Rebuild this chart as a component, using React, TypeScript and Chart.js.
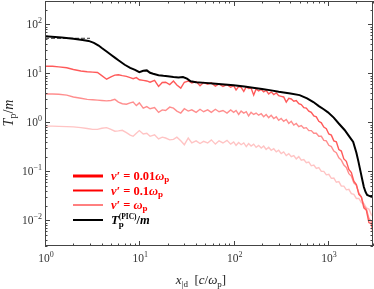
import React, { useEffect, useRef } from "react";
import { Chart, registerables } from "chart.js";
Chart.register(...registerables);

// shared x grid for the three nu' series
const xGrid = [
  1, 1.2, 1.4, 1.7, 2, 2.4, 2.8, 3.2, 3.6, 4, 4.5, 5, 5.5, 6, 6.6, 7.3, 8, 8.6, 9.3,
  10, 11, 12, 13, 14.5, 16, 17.5, 19, 21, 23, 25, 27.5, 30, 33, 36, 40, 44, 48, 53, 58, 64, 70, 77, 85, 93,
  100, 106, 113, 120, 128, 136, 144, 153, 163, 173, 184, 196, 208, 221, 235, 250, 266, 283, 300, 319,
  339, 361, 384, 408, 434, 461, 490, 521, 554, 589, 626, 665, 707, 752, 799, 850, 903, 960, 1020, 1085,
  1153, 1226, 1303, 1385, 1472, 1565, 1664, 1769, 1880, 1999, 2125, 2259, 2401, 2553, 2714, 2885, 3000,
];
// nu' = 0.01 omega_p
const yNu001 = [
  14, 14, 13.6, 13, 12, 11.2, 10.8, 10.6, 10.4, 9.0, 7.6, 8.5, 9.2, 9.4, 9.0, 8.7, 8.2, 7.8, 8.2,
  7.4, 7.2, 7.0, 6.6, 7.2, 5.4, 6.5, 6.6, 5.9, 7.0, 5.8, 5.0, 6.6, 7.0, 6.4, 6.8, 5.6, 6.5, 6.0, 6.4, 5.5, 6.1, 5.4, 5.9, 5.2,
  5.6, 4.6, 5.4, 5.2, 4.3, 5.3, 4.9, 5.0, 3.6, 4.8, 4.4, 4.7, 4.2, 4.5, 3.8, 4.2, 3.7, 4.0, 3.5, 3.4,
  3.3, 2.6, 3.1, 3.0, 2.7, 2.8, 2.4, 2.3, 2.0, 1.95, 1.7, 1.6, 1.35, 1.3, 1.05, 0.98, 0.8, 0.74, 0.58, 0.55,
  0.42, 0.4, 0.28, 0.26, 0.18, 0.16, 0.11, 0.095, 0.063, 0.054, 0.034, 0.03, 0.018, 0.016, 0.009, 0.0085, 0.0055,
];
// nu' = 0.1 omega_p
const yNu01 = [
  3.8, 3.8, 3.75, 3.6, 3.3, 3.1, 2.95, 2.9, 2.85, 2.8, 2.75, 2.8, 2.95, 2.6, 2.4, 2.35, 2.5, 2.6, 2.2,
  2.5, 1.95, 2.1, 1.9, 2.0, 1.6, 1.8, 1.75, 2.05, 1.95, 1.7, 1.55, 1.9, 1.7, 1.8, 1.6, 1.85, 1.65, 1.8, 1.6, 1.85, 1.65, 1.75, 1.55, 1.8,
  1.6, 1.75, 1.45, 1.7, 1.55, 1.65, 1.35, 1.6, 1.45, 1.55, 1.4, 1.5, 1.3, 1.45, 1.25, 1.4, 1.2, 1.3, 1.1, 1.2,
  1.05, 1.15, 0.95, 1.05, 0.88, 0.95, 0.82, 0.86, 0.76, 0.78, 0.68, 0.68, 0.6, 0.6, 0.52, 0.52, 0.43, 0.42, 0.34, 0.32,
  0.26, 0.24, 0.19, 0.17, 0.135, 0.12, 0.09, 0.08, 0.058, 0.052, 0.036, 0.03, 0.02, 0.017, 0.011, 0.0095, 0.007,
];
// nu' = omega_p
const yNu1 = [
  0.84, 0.84, 0.83, 0.82, 0.81, 0.78, 0.75, 0.72, 0.72, 0.76, 0.78, 0.72, 0.66, 0.67, 0.69, 0.62, 0.55, 0.52, 0.6,
  0.68, 0.58, 0.6, 0.52, 0.56, 0.46, 0.5, 0.48, 0.44, 0.45, 0.5, 0.42, 0.35, 0.48, 0.38, 0.42, 0.37, 0.41, 0.38, 0.44, 0.36, 0.42, 0.38, 0.43, 0.36,
  0.4, 0.34, 0.39, 0.35, 0.38, 0.32, 0.37, 0.33, 0.36, 0.31, 0.34, 0.3, 0.33, 0.28, 0.31, 0.27, 0.29, 0.25, 0.27, 0.23,
  0.25, 0.21, 0.23, 0.2, 0.21, 0.18, 0.2, 0.17, 0.175, 0.15, 0.155, 0.13, 0.135, 0.115, 0.12, 0.1, 0.1, 0.085, 0.087, 0.072,
  0.073, 0.06, 0.062, 0.05, 0.05, 0.042, 0.043, 0.035, 0.034, 0.028, 0.028, 0.023, 0.022, 0.018, 0.017, 0.013, 0.012,
];
// PIC temperature
const xPic = [
  1, 1.5, 2, 2.5, 2.9, 3.3, 3.7, 4, 4.5, 5, 5.5, 6, 7, 8, 9, 10, 11, 12, 13, 14,
  16, 18, 20, 23, 26, 29, 32, 35, 40, 50, 60, 80, 100, 130, 160, 200, 250, 300, 400, 500,
  600, 700, 800, 900, 1000, 1150, 1300, 1500, 1700, 1850, 2000, 2100, 2200, 2300, 2400, 2500, 2600, 2800, 3000,
];
const yPic = [
  57, 54, 51, 48, 46, 42, 37, 33, 28, 24, 21, 18.5, 15, 13, 11.8, 10.6, 11.3, 11.5, 10.3, 9.8,
  9.2, 8.9, 8.7, 8.4, 8.2, 8.4, 7.8, 6.9, 6.6, 6.4, 6.2, 5.9, 5.7, 5.4, 5.1, 4.8, 4.5, 4.2, 3.9, 3.6,
  3.1, 2.6, 2.15, 1.85, 1.6, 1.25, 0.95, 0.7, 0.5, 0.4, 0.24, 0.16, 0.105, 0.07, 0.048, 0.038, 0.033, 0.031, 0.032,
];
// short dashed reference level
const xRef = [1, 3];
const yRef = [52, 52];

const xTicks = [1, 10, 100, 1000];
const xTickExp = ["0", "1", "2", "3"];
const yTicks = [0.01, 0.1, 1, 10, 100];
const yTickExp = ["\u22122", "\u22121", "0", "1", "2"];

const X_MIN = 1, X_MAX = 3000, Y_MIN = 0.003, Y_MAX = 300;

const F = "'Liberation Serif', 'DejaVu Serif', serif";
type Run = { t: string; f: string; dy?: number; adv?: boolean };

const LB = `bold 12.5px ${F}`;
const LBI = `bold italic 12.5px ${F}`;
const LS = `bold 9px ${F}`;
const legendColors = ["#ff0000", "#ff0000", "#ff0000", "#000000"];
const legendWidths = [3, 2, 1, 2];
const legendTexts: Run[][] = [
  [{ t: "\u03bd\u2032", f: LBI }, { t: " = ", f: LB }, { t: "0.01", f: LB }, { t: "\u03c9", f: LBI }, { t: "p", f: LS, dy: 2 }],
  [{ t: "\u03bd\u2032", f: LBI }, { t: " = ", f: LB }, { t: "0.1", f: LB }, { t: "\u03c9", f: LBI }, { t: "p", f: LS, dy: 2 }],
  [{ t: "\u03bd\u2032", f: LBI }, { t: " = ", f: LB }, { t: "\u03c9", f: LBI }, { t: "p", f: LS, dy: 2 }],
  [{ t: "T", f: LBI }, { t: "p", f: LS, dy: 3, adv: false }, { t: "(PIC)", f: `bold 7.5px ${F}`, dy: -5 }, { t: "/", f: LB }, { t: "m", f: LBI }],
];
const yTitle: Run[] = [
  { t: "T", f: `italic 14px ${F}` }, { t: "p", f: `10px ${F}`, dy: 3 }, { t: "/", f: `14px ${F}` }, { t: "m", f: `italic 14px ${F}` },
];
const xTitle: Run[] = [
  { t: "x", f: `italic 13px ${F}` }, { t: "|d", f: `9px ${F}`, dy: 3 }, { t: "  [", f: `13px ${F}` }, { t: "c", f: `italic 13px ${F}` },
  { t: "/", f: `13px ${F}` }, { t: "\u03c9", f: `italic 13px ${F}` }, { t: "p", f: `9px ${F}`, dy: 3 }, { t: "]", f: `13px ${F}` },
];

function runsWidth(ctx: CanvasRenderingContext2D, runs: Run[]) {
  let w = 0;
  for (const r of runs) {
    ctx.font = r.f;
    if (r.adv !== false) w += ctx.measureText(r.t).width;
  }
  return w;
}
function drawRuns(ctx: CanvasRenderingContext2D, runs: Run[], x: number, y: number) {
  let cx = x;
  for (const r of runs) {
    ctx.font = r.f;
    ctx.fillText(r.t, cx, y + (r.dy || 0));
    if (r.adv !== false) cx += ctx.measureText(r.t).width;
  }
}

const decorPlugin = {
  id: "decor",
  afterDraw(chart: any) {
    const ctx: CanvasRenderingContext2D = chart.ctx;
    const { left, right, top, bottom } = chart.chartArea;
    const xs = chart.scales.x;
    const ys = chart.scales.y;
    ctx.save();
    ctx.strokeStyle = "#444";
    ctx.lineWidth = 1;
    ctx.strokeRect(Math.round(left) + 0.5, Math.round(top) + 0.5, Math.round(right - left) - 1, Math.round(bottom - top) - 1);
    ctx.beginPath();
    for (let k = -3; k <= 4; k++) {
      for (let m = 1; m <= 9; m++) {
        const v = m * Math.pow(10, k);
        const len = m === 1 ? 5 : 2.5;
        if (v >= X_MIN && v <= X_MAX) {
          const px = Math.round(xs.getPixelForValue(v)) + 0.5;
          ctx.moveTo(px, bottom); ctx.lineTo(px, bottom - len);
          ctx.moveTo(px, top); ctx.lineTo(px, top + len);
        }
        if (v >= Y_MIN && v <= Y_MAX) {
          const py = Math.round(ys.getPixelForValue(v)) + 0.5;
          ctx.moveTo(left, py); ctx.lineTo(left + len, py);
          ctx.moveTo(right, py); ctx.lineTo(right - len, py);
        }
      }
    }
    ctx.stroke();

    ctx.fillStyle = "#333";
    ctx.textBaseline = "alphabetic";
    ctx.textAlign = "left";
    const base = `11.5px ${F}`;
    const sup = `8px ${F}`;
    xTicks.forEach((v, i) => {
      const runs: Run[] = [{ t: "10", f: base }, { t: xTickExp[i], f: sup, dy: -5 }];
      const w = runsWidth(ctx, runs);
      const px = xs.getPixelForValue(v);
      drawRuns(ctx, runs, px - w / 2 + 1, bottom + 16);
    });
    yTicks.forEach((v, i) => {
      const runs: Run[] = [{ t: "10", f: base }, { t: yTickExp[i], f: sup, dy: -5 }];
      const w = runsWidth(ctx, runs);
      const py = ys.getPixelForValue(v);
      drawRuns(ctx, runs, left - 3 - w, py + 4);
    });

    // axis titles
    ctx.fillStyle = "#222";
    const xw = runsWidth(ctx, xTitle);
    drawRuns(ctx, xTitle, 201 - xw / 2, 284);
    ctx.save();
    ctx.translate(13, 113);
    ctx.rotate(-Math.PI / 2);
    const yw = runsWidth(ctx, yTitle);
    drawRuns(ctx, yTitle, -yw / 2, 0);
    ctx.restore();

    // legend
    const rows = [176, 190.5, 205, 220];
    rows.forEach((ry, i) => {
      ctx.strokeStyle = legendColors[i];
      ctx.lineWidth = legendWidths[i];
      ctx.beginPath();
      ctx.moveTo(73, ry);
      ctx.lineTo(103, ry);
      ctx.stroke();
      ctx.fillStyle = legendColors[i];
      drawRuns(ctx, legendTexts[i], 111, ry + 4);
    });
    ctx.restore();
  },
};

const pts = (xa: number[], ya: number[]) => xa.map((x, i) => ({ x, y: ya[i] }));

export default function App() {
  const ref = useRef<HTMLCanvasElement | null>(null);
  useEffect(() => {
    document.body.style.margin = "0";
    if (!ref.current) return;
    const chart = new Chart(ref.current, {
      type: "line",
      data: {
        datasets: [
          { label: "PIC", data: pts(xPic, yPic), borderColor: "#000000", borderWidth: 2, pointRadius: 0 },
          { label: "ref", data: pts(xRef, yRef), borderColor: "#333333", borderWidth: 1, borderDash: [4, 2], pointRadius: 0 },
          { label: "nu 0.01", data: pts(xGrid, yNu001), borderColor: "#ff5a5a", borderWidth: 1.4, pointRadius: 0 },
          { label: "nu 0.1", data: pts(xGrid, yNu01), borderColor: "#ff8e8e", borderWidth: 1.4, pointRadius: 0 },
          { label: "nu 1", data: pts(xGrid, yNu1), borderColor: "#ffc4c4", borderWidth: 1.4, pointRadius: 0 },
        ],
      } as any,
      options: {
        animation: false,
        responsive: false,
        devicePixelRatio: 1,
        layout: { padding: { left: 45, right: 1, top: 1, bottom: 43 } },
        plugins: { legend: { display: false }, tooltip: { enabled: false } },
        scales: {
          x: { type: "logarithmic", min: X_MIN, max: X_MAX, display: false },
          y: { type: "logarithmic", min: Y_MIN, max: Y_MAX, display: false },
        },
      } as any,
      plugins: [decorPlugin],
    });
    return () => chart.destroy();
  }, []);
  return (
    <div style={{ position: "fixed", left: 0, top: 0, width: 374, height: 289, background: "#fff" }}>
      <canvas ref={ref} width={374} height={289} style={{ display: "block" }} />
    </div>
  );
}
